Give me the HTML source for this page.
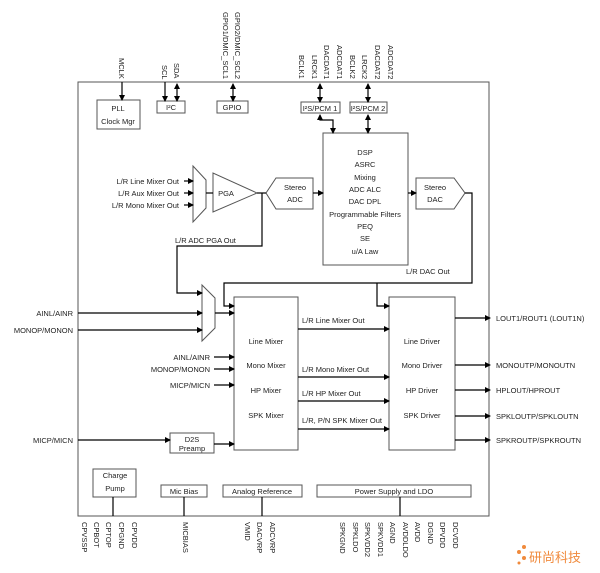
<!DOCTYPE html>
<html><head><meta charset="utf-8"><style>
html,body{margin:0;padding:0;background:#fff;}
svg{display:block;}
text{font-family:"Liberation Sans",sans-serif;font-size:7.5px;fill:#222;}
.c{text-anchor:middle;}
.r{text-anchor:end;}
</style></head><body>
<svg width="600" height="573" viewBox="0 0 600 573" xmlns="http://www.w3.org/2000/svg">
<defs>
<marker id="a" markerWidth="6" markerHeight="6" refX="5" refY="3" orient="auto" markerUnits="userSpaceOnUse"><path d="M0,0 L6,3 L0,6 z" fill="#000"/></marker>
<marker id="b" markerWidth="6" markerHeight="6" refX="1" refY="3" orient="auto" markerUnits="userSpaceOnUse"><path d="M6,0 L0,3 L6,6 z" fill="#000"/></marker>
</defs>
<g fill="none" stroke="#555" stroke-width="1">
<rect x="78" y="82" width="411" height="434"/>
<rect x="97" y="100" width="43" height="29"/>
<rect x="157" y="101" width="28" height="12"/>
<rect x="217" y="101" width="31" height="12"/>
<rect x="301" y="102" width="39" height="11"/>
<rect x="350" y="102" width="37" height="11"/>
<rect x="323" y="133" width="85" height="132"/>
<polygon points="266,193 276,178 313,178 313,209 276,209"/>
<polygon points="416,178 454,178 465,193 454,209 416,209"/>
<polygon points="213,173 213,212 257,193"/>
<polygon points="193,166 206,180 206,208 193,222"/>
<polygon points="202,285 215,298 215,328 202,341"/>
<rect x="234" y="297" width="64" height="153"/>
<rect x="389" y="297" width="66" height="153"/>
<rect x="170" y="433" width="44" height="20"/>
<rect x="93" y="469" width="43" height="28"/>
<rect x="161" y="485" width="46" height="12"/>
<rect x="223" y="485" width="79" height="12"/>
<rect x="317" y="485" width="154" height="12"/>
</g>
<g fill="none" stroke="#000" stroke-width="1.2">
<line x1="122" y1="82" x2="122" y2="100" marker-end="url(#a)"/>
<line x1="165" y1="82" x2="165" y2="101" marker-end="url(#a)"/>
<line x1="177" y1="84" x2="177" y2="101" marker-end="url(#a)" marker-start="url(#b)"/>
<line x1="233" y1="84" x2="233" y2="101" marker-end="url(#a)" marker-start="url(#b)"/>
<line x1="320" y1="84" x2="320" y2="102" marker-end="url(#a)" marker-start="url(#b)"/>
<line x1="368" y1="84" x2="368" y2="102" marker-end="url(#a)" marker-start="url(#b)"/>
<polyline points="320,115 320,120 333,120 333,133" marker-end="url(#a)" marker-start="url(#b)"/>
<line x1="368" y1="115" x2="368" y2="133" marker-end="url(#a)" marker-start="url(#b)"/>
<line x1="184" y1="181" x2="193" y2="181" marker-end="url(#a)"/>
<line x1="184" y1="193" x2="193" y2="193" marker-end="url(#a)"/>
<line x1="184" y1="205" x2="193" y2="205" marker-end="url(#a)"/>
<line x1="206" y1="193" x2="213" y2="193"/>
<line x1="257" y1="193" x2="266" y2="193"/>
<line x1="313" y1="193" x2="323" y2="193" marker-end="url(#a)"/>
<line x1="408" y1="193" x2="416" y2="193" marker-end="url(#a)"/>
<polyline points="262,193 262,246 177,246 177,293 202,293" marker-end="url(#a)"/>
<polyline points="465,193 472,193 472,283 224,283 224,306 234,306" marker-end="url(#a)"/>
<polyline points="377,283 377,306 389,306" marker-end="url(#a)"/>
<line x1="78" y1="313" x2="202" y2="313" marker-end="url(#a)"/>
<line x1="78" y1="330" x2="202" y2="330" marker-end="url(#a)"/>
<line x1="215" y1="313" x2="234" y2="313" marker-end="url(#a)"/>
<line x1="214" y1="357" x2="234" y2="357" marker-end="url(#a)"/>
<line x1="214" y1="369" x2="234" y2="369" marker-end="url(#a)"/>
<line x1="214" y1="385" x2="234" y2="385" marker-end="url(#a)"/>
<line x1="78" y1="440" x2="170" y2="440" marker-end="url(#a)"/>
<line x1="214" y1="444" x2="234" y2="444" marker-end="url(#a)"/>
<line x1="298" y1="329" x2="389" y2="329" marker-end="url(#a)"/>
<line x1="298" y1="377" x2="389" y2="377" marker-end="url(#a)"/>
<line x1="298" y1="401" x2="389" y2="401" marker-end="url(#a)"/>
<line x1="298" y1="429" x2="389" y2="429" marker-end="url(#a)"/>
<line x1="455" y1="318" x2="490" y2="318" marker-end="url(#a)"/>
<line x1="455" y1="365" x2="490" y2="365" marker-end="url(#a)"/>
<line x1="455" y1="390" x2="490" y2="390" marker-end="url(#a)"/>
<line x1="455" y1="416" x2="490" y2="416" marker-end="url(#a)"/>
<line x1="455" y1="440" x2="490" y2="440" marker-end="url(#a)"/>
<line x1="113" y1="497" x2="113" y2="516"/>
<line x1="184" y1="497" x2="184" y2="516"/>
<line x1="262" y1="497" x2="262" y2="516"/>
<line x1="400" y1="497" x2="400" y2="516"/>
</g>
<g>
<text class="c" x="118" y="111">PLL</text>
<text class="c" x="118" y="124">Clock Mgr</text>
<text class="c" x="171" y="110">I²C</text>
<text class="c" x="232" y="110">GPIO</text>
<text class="c" x="320" y="111">I²S/PCM 1</text>
<text class="c" x="368" y="111">I²S/PCM 2</text>
<text class="c" x="365" y="155">DSP</text>
<text class="c" x="365" y="167">ASRC</text>
<text class="c" x="365" y="180">Mixing</text>
<text class="c" x="365" y="192">ADC ALC</text>
<text class="c" x="365" y="204">DAC DPL</text>
<text class="c" x="365" y="217">Programmable Filters</text>
<text class="c" x="365" y="229">PEQ</text>
<text class="c" x="365" y="241">SE</text>
<text class="c" x="365" y="254">u/A Law</text>
<text class="c" x="295" y="190">Stereo</text>
<text class="c" x="295" y="202">ADC</text>
<text class="c" x="435" y="190">Stereo</text>
<text class="c" x="435" y="202">DAC</text>
<text class="c" x="226" y="196">PGA</text>
<text class="r" x="179" y="184">L/R Line Mixer Out</text>
<text class="r" x="179" y="196">L/R Aux Mixer Out</text>
<text class="r" x="179" y="208">L/R Mono Mixer Out</text>
<text x="175" y="243">L/R ADC PGA Out</text>
<text x="406" y="274">L/R DAC Out</text>
<text class="r" x="73" y="316">AINL/AINR</text>
<text class="r" x="73" y="333">MONOP/MONON</text>
<text class="r" x="210" y="360">AINL/AINR</text>
<text class="r" x="210" y="372">MONOP/MONON</text>
<text class="r" x="210" y="388">MICP/MICN</text>
<text class="r" x="73" y="443">MICP/MICN</text>
<text class="c" x="192" y="442">D2S</text>
<text class="c" x="192" y="451">Preamp</text>
<text class="c" x="266" y="344">Line Mixer</text>
<text class="c" x="266" y="368">Mono Mixer</text>
<text class="c" x="266" y="393">HP Mixer</text>
<text class="c" x="266" y="418">SPK Mixer</text>
<text class="c" x="422" y="344">Line Driver</text>
<text class="c" x="422" y="368">Mono Driver</text>
<text class="c" x="422" y="393">HP Driver</text>
<text class="c" x="422" y="418">SPK Driver</text>
<text x="302" y="323">L/R Line Mixer Out</text>
<text x="302" y="372">L/R Mono Mixer Out</text>
<text x="302" y="396">L/R HP Mixer Out</text>
<text x="302" y="423">L/R, P/N SPK Mixer Out</text>
<text x="496" y="321">LOUT1/ROUT1 (LOUT1N)</text>
<text x="496" y="368">MONOUTP/MONOUTN</text>
<text x="496" y="393">HPLOUT/HPROUT</text>
<text x="496" y="419">SPKLOUTP/SPKLOUTN</text>
<text x="496" y="443">SPKROUTP/SPKROUTN</text>
<text class="c" x="115" y="478">Charge</text>
<text class="c" x="115" y="491">Pump</text>
<text class="c" x="184" y="494">Mic Bias</text>
<text class="c" x="262" y="494">Analog Reference</text>
<text class="c" x="394" y="494">Power Supply and LDO</text>
</g>
<g>
<text transform="translate(119,58) rotate(90)">MCLK</text>
<text transform="translate(162,65) rotate(90)">SCL</text>
<text transform="translate(174,63) rotate(90)">SDA</text>
<text transform="translate(223,12) rotate(90)">GPIO1/DMIC_SCL1</text>
<text transform="translate(235,12) rotate(90)">GPIO2/DMIC_SCL2</text>
<text transform="translate(299,55) rotate(90)">BCLK1</text>
<text transform="translate(312,55) rotate(90)">LRCK1</text>
<text transform="translate(324,45) rotate(90)">DACDAT1</text>
<text transform="translate(337,45) rotate(90)">ADCDAT1</text>
<text transform="translate(350,55) rotate(90)">BCLK2</text>
<text transform="translate(362,55) rotate(90)">LRCK2</text>
<text transform="translate(375,45) rotate(90)">DACDAT2</text>
<text transform="translate(388,45) rotate(90)">ADCDAT2</text>
<text transform="translate(82,522) rotate(90)">CPVSSP</text>
<text transform="translate(94,522) rotate(90)">CPBOT</text>
<text transform="translate(106,522) rotate(90)">CPTOP</text>
<text transform="translate(119,522) rotate(90)">CPGND</text>
<text transform="translate(132,522) rotate(90)">CPVDD</text>
<text transform="translate(183,522) rotate(90)">MICBIAS</text>
<text transform="translate(245,522) rotate(90)">VMID</text>
<text transform="translate(257,522) rotate(90)">DACVRP</text>
<text transform="translate(270,522) rotate(90)">ADCVRP</text>
<text transform="translate(340,522) rotate(90)">SPKGND</text>
<text transform="translate(353,522) rotate(90)">SPKLDO</text>
<text transform="translate(365,522) rotate(90)">SPKVDD2</text>
<text transform="translate(378,522) rotate(90)">SPKVDD1</text>
<text transform="translate(390,522) rotate(90)">AGND</text>
<text transform="translate(403,522) rotate(90)">AVDDLDO</text>
<text transform="translate(415,522) rotate(90)">AVDD</text>
<text transform="translate(428,522) rotate(90)">DGND</text>
<text transform="translate(440,522) rotate(90)">DPVDD</text>
<text transform="translate(453,522) rotate(90)">DCVDD</text>
</g>
<g fill="#f08a3c">
<circle cx="519" cy="552" r="2"/><circle cx="524" cy="547" r="2"/><circle cx="524" cy="558" r="2"/><circle cx="519" cy="563" r="1.5"/>
</g>
<text x="529" y="562" style="font-family:'Liberation Sans','Noto Sans CJK SC',sans-serif;font-size:13px;fill:#f08a3c;">研尚科技</text>
</svg>
</body></html>
